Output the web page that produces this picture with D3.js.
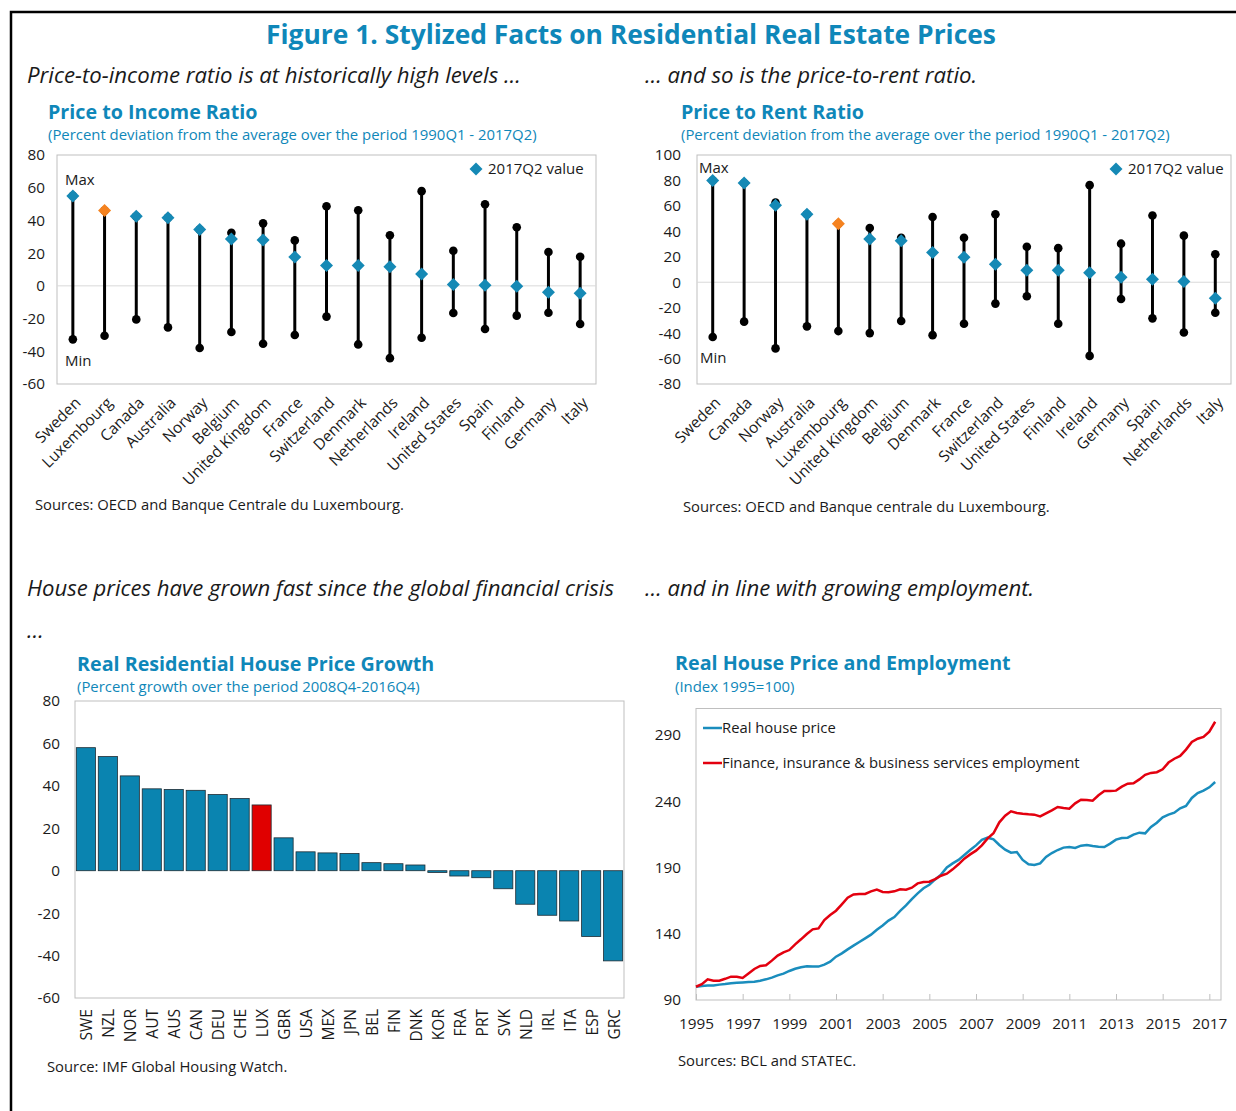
<!DOCTYPE html>
<html>
<head>
<meta charset="utf-8">
<script src="https://cdn.jsdelivr.net/npm/d3@7"></script>
<style>
  body { margin: 0; background: #fff; }
  svg text { font-family: "Open Sans", "Noto Sans", sans-serif; fill: #1a1a1a; }
</style>
</head>
<body>
<script>
// ---- data ----
var incomeNames = ["Sweden", "Luxembourg", "Canada", "Australia", "Norway", "Belgium", "United Kingdom", "France",
  "Switzerland", "Denmark", "Netherlands", "Ireland", "United States", "Spain", "Finland", "Germany", "Italy"];
var incomeMax = [55, 46, 42.5, 41.7, 34.4, 32.5, 38.2, 27.8, 48.7, 46.2, 30.9, 57.9, 21.5, 49.9, 35.8, 20.7, 17.8];
var incomeMin = [-32.7, -30.5, -20.5, -25.4, -38, -28.2, -35.4, -30, -18.8, -35.8, -44.2, -31.7, -16.6, -26.4, -18.2, -16.4, -23.3];
var incomeNow = [55, 46, 42.5, 41.7, 34.4, 28.6, 28, 17.6, 12.5, 12.5, 11.7, 7.2, 0.8, 0.4, -0.2, -3.9, -4.5];
var incomeTicks = [-60, -40, -20, 0, 20, 40, 60, 80];

var rentNames = ["Sweden", "Canada", "Norway", "Australia", "Luxembourg", "United Kingdom", "Belgium", "Denmark",
  "France", "Switzerland", "United States", "Finland", "Ireland", "Germany", "Spain", "Netherlands", "Italy"];
var rentMax = [80, 78, 62.6, 53.4, 46, 42.6, 35, 51.3, 35, 53.4, 27.9, 26.8, 76.3, 30.3, 52.4, 36.6, 22];
var rentMin = [-43, -31, -52, -34.7, -38.4, -40, -30.5, -41.6, -32.6, -16.8, -11, -32.6, -57.9, -13.2, -28.4, -39.5, -24];
var rentNow = [80, 78, 60.5, 53.4, 46, 34, 32.6, 23.4, 19.7, 14.2, 9.5, 9.5, 7.4, 3.9, 2.4, 0.5, -12.6];
var rentTicks = [-80, -60, -40, -20, 0, 20, 40, 60, 80, 100];

var growthCodes = ["SWE", "NZL", "NOR", "AUT", "AUS", "CAN", "DEU", "CHE", "LUX", "GBR", "USA", "MEX", "JPN",
  "BEL", "FIN", "DNK", "KOR", "FRA", "PRT", "SVK", "NLD", "IRL", "ITA", "ESP", "GRC"];
var growthValues = [58, 53.8, 44.7, 38.6, 38.3, 37.9, 35.9, 34, 31, 15.5, 8.9, 8.4, 8.1,
  3.8, 3.3, 2.7, -0.8, -2.5, -3.3, -8.5, -15.8, -21, -23.7, -31, -42.5];
var growthTicks = [-60, -40, -20, 0, 20, 40, 60, 80];

// quarterly, 1995Q1 - 2017Q2
var houseStart = 1995;
var housePrice = [
  100, 100.6, 101, 101, 101.6, 102, 102.6, 103, 103.3, 103.6, 103.8, 104.6,
  105.6, 106.9, 108.6, 109.9, 111.9, 113.6, 114.7, 115.4, 115.2, 115.2, 116.7, 118.9,
  122.7, 125.2, 128.2, 131, 133.8, 136.5, 139.3, 143, 146.3, 149.9, 152.6, 157.2,
  161.4, 166.2, 170.5, 174.3, 177, 181, 184.6, 190.1, 193.1, 195.7, 199.4, 203.2,
  206.7, 210.8, 212.5, 211.3, 207, 203.5, 201.2, 201.7, 195.7, 192.4, 191.9, 193.1,
  198, 200.9, 203.2, 205, 205.5, 204.7, 206.5, 207, 206.2, 205.7, 205.5, 208,
  211, 212.3, 212.5, 214.8, 216.3, 215.8, 220.6, 223.8, 227.9, 229.9, 231.4, 234.7,
  236.4, 242.5, 246.2, 248, 250.5, 254.5];
var employment = [
  100, 102, 105.6, 104.6, 104.6, 106, 107.6, 107.6, 106.6, 110, 113.4, 115.7,
  116.2, 119.7, 123.5, 126, 127.7, 132, 135.8, 139.8, 143.3, 144, 150.4, 154.2,
  157.4, 162.2, 167.2, 169.7, 170, 170, 172, 173.3, 171.5, 171.3, 172, 173.5,
  173.3, 174.8, 178, 179, 179.3, 181.3, 183.8, 185.3, 188.6, 192.4, 196.7, 199.9,
  202.7, 206.7, 212, 215.8, 224.1, 229.1, 232.4, 231.1, 230.5, 230.1, 229.9, 228.6,
  230.9, 233.1, 235.7, 234.9, 234.4, 238.4, 241.2, 241, 240.4, 244.5, 247.7, 247.7,
  248, 251, 253.3, 253.5, 256.5, 259.9, 261.4, 261.9, 264.1, 269.2, 272.1, 274.2,
  279, 284.7, 287.2, 288.5, 292.5, 300];
var indexTicks = [90, 140, 190, 240, 290];
var yearTicks = [1995, 1997, 1999, 2001, 2003, 2005, 2007, 2009, 2011, 2013, 2015, 2017];

var teal = "#0f87b9";
var marker = "#1589b5";
var orange = "#f5821f";

var svg = d3.select("body").append("svg").attr("width", 1236).attr("height", 1111);

// frame
svg.append("path").attr("d", "M11,1111V12H1236").attr("fill", "none").attr("stroke", "#000").attr("stroke-width", 2.5);

function label(x, y, s, size, opts) {
  opts = opts || {};
  var t = svg.append("text").attr("x", x).attr("y", y).text(s)
    .style("font-size", size + "px");
  if (opts.bold) t.style("font-weight", "bold");
  if (opts.italic) t.style("font-style", "italic");
  if (opts.color) t.style("fill", opts.color);
  if (opts.anchor) t.attr("text-anchor", opts.anchor);
  return t;
}

label(631, 44, "Figure 1. Stylized Facts on Residential Real Estate Prices", 26.4, {bold: true, color: teal, anchor: "middle"});
label(27, 83, "Price-to-income ratio is at historically high levels \u2026", 22.2, {italic: true});
label(645, 83, "\u2026 and so is the price-to-rent ratio.", 22.2, {italic: true});
label(48, 119, "Price to Income Ratio", 19.7, {bold: true, color: teal});
label(48, 140, "(Percent deviation from the average over the period 1990Q1 - 2017Q2)", 14.9, {color: teal});
label(681, 119, "Price to Rent Ratio", 19.7, {bold: true, color: teal});
label(681, 140, "(Percent deviation from the average over the period 1990Q1 - 2017Q2)", 14.9, {color: teal});
label(35, 510, "Sources: OECD and Banque Centrale du Luxembourg.", 14.8);
label(683, 512, "Sources: OECD and Banque centrale du Luxembourg.", 14.8);

label(27, 596, "House prices have grown fast since the global financial crisis", 22.1, {italic: true});
label(27, 638, "\u2026", 22.1, {italic: true});
label(645, 596, "\u2026 and in line with growing employment.", 22.1, {italic: true});
label(77, 671, "Real Residential House Price Growth", 19.7, {bold: true, color: teal});
label(77, 692, "(Percent growth over the period 2008Q4-2016Q4)", 14.9, {color: teal});
label(675, 670, "Real House Price and Employment", 19.7, {bold: true, color: teal});
label(675, 692, "(Index 1995=100)", 14.9, {color: teal});
label(47, 1072, "Source: IMF Global Housing Watch.", 14.8);
label(678, 1066, "Sources: BCL and STATEC.", 14.8);

function yAxis(g, y, ticks, x0, pad) {
  var ax = g.append("g").attr("transform", "translate(" + x0 + ",0)")
    .call(d3.axisLeft(y).tickValues(ticks).tickSize(0).tickPadding(pad)
      .tickFormat(function(d) { return String(d); }));
  ax.select(".domain").remove();
  ax.selectAll("text").style("font-size", "15.3px").style("fill", "#1a1a1a")
    .style("font-family", "'Open Sans', sans-serif");
}

function diamond(g, cx, cy, color) {
  g.append("rect").attr("x", -4.6).attr("y", -4.6).attr("width", 9.2).attr("height", 9.2)
    .attr("fill", color)
    .attr("transform", "translate(" + cx + "," + cy + ") rotate(45)");
}

function rangeChart(c) {
  var g = svg.append("g");
  var x = d3.scaleBand().domain(c.names).range([c.left, c.right]);
  var y = d3.scaleLinear().domain(c.domain).range([c.bottom, c.top]);
  g.append("rect").attr("x", c.left).attr("y", c.top).attr("width", c.right - c.left)
    .attr("height", c.bottom - c.top).attr("fill", "none").attr("stroke", "#bfbfbf");
  g.append("line").attr("x1", c.left).attr("x2", c.right).attr("y1", y(0)).attr("y2", y(0))
    .attr("stroke", "#d9d9d9");
  yAxis(g, y, c.ticks, c.left, c.pad);
  c.names.forEach(function(n, i) {
    var cx = x(n) + x.bandwidth() / 2;
    g.append("line").attr("x1", cx).attr("x2", cx).attr("y1", y(c.max[i])).attr("y2", y(c.min[i]))
      .attr("stroke", "#000").attr("stroke-width", 3);
    g.append("circle").attr("cx", cx).attr("cy", y(c.max[i])).attr("r", 4.3).attr("fill", "#000");
    g.append("circle").attr("cx", cx).attr("cy", y(c.min[i])).attr("r", 4.3).attr("fill", "#000");
    diamond(g, cx, y(c.now[i]), n === "Luxembourg" ? orange : marker);
    g.append("text").attr("transform", "translate(" + (cx + 5) + "," + (c.bottom + 16) + ") rotate(-45)")
      .attr("text-anchor", "end").attr("dy", "0.35em").style("font-size", "15.5px").text(n);
  });
  g.append("text").attr("x", c.left + c.maxLbl[0]).attr("y", c.maxLbl[1]).style("font-size", "15px").text("Max");
  g.append("text").attr("x", c.left + c.minLbl[0]).attr("y", c.minLbl[1]).style("font-size", "15px").text("Min");
  diamond(g, c.right - c.legend, c.top + 14, marker);
  g.append("text").attr("x", c.right - c.legend + 12).attr("y", c.top + 19).style("font-size", "15px").text("2017Q2 value");
}

rangeChart({names: incomeNames, max: incomeMax, min: incomeMin, now: incomeNow, ticks: incomeTicks, pad: 12,
  domain: [-60, 80], left: 57, right: 596, top: 155, bottom: 384, maxLbl: [8, 185], minLbl: [8, 366], legend: 120});
rangeChart({names: rentNames, max: rentMax, min: rentMin, now: rentNow, ticks: rentTicks, pad: 16,
  domain: [-80, 100], left: 697, right: 1231, top: 155, bottom: 384, maxLbl: [2, 173], minLbl: [3, 363], legend: 115});

// ---- bar chart ----
(function() {
  var left = 75, right = 624, top = 701, bottom = 998;
  var g = svg.append("g");
  var x = d3.scaleBand().domain(growthCodes).range([left, right]).paddingInner(0.13).paddingOuter(0.06);
  var y = d3.scaleLinear().domain([-60, 80]).range([bottom, top]);
  g.append("rect").attr("x", left).attr("y", top).attr("width", right - left).attr("height", bottom - top)
    .attr("fill", "none").attr("stroke", "#bfbfbf");
  yAxis(g, y, growthTicks, left, 15);
  g.selectAll("rect.bar").data(growthValues).enter().append("rect").attr("class", "bar")
    .attr("x", function(d, i) { return x(growthCodes[i]); })
    .attr("width", x.bandwidth())
    .attr("y", function(d) { return y(Math.max(0, d)); })
    .attr("height", function(d) { return Math.abs(y(d) - y(0)); })
    .attr("fill", function(d, i) { return growthCodes[i] === "LUX" ? "#e00000" : "#0a84b0"; })
    .attr("stroke", "#1d2b33").attr("stroke-width", 0.8);
  growthCodes.forEach(function(c) {
    var cx = x(c) + x.bandwidth() / 2;
    g.append("text").attr("transform", "translate(" + (cx + 1) + "," + (bottom + 11) + ") rotate(-90)")
      .attr("text-anchor", "end").attr("dy", "0.35em").style("font-size", "15.5px").text(c);
  });
})();

// ---- line chart ----
(function() {
  var left = 696, right = 1221, top = 708.5, bottom = 1000;
  var g = svg.append("g");
  var x = d3.scaleLinear().domain([1995, 2017.5]).range([left, right]);
  var y = d3.scaleLinear().domain([90, 310]).range([bottom, top]);
  g.append("rect").attr("x", left).attr("y", top).attr("width", right - left).attr("height", bottom - top)
    .attr("fill", "none").attr("stroke", "#bfbfbf");
  yAxis(g, y, indexTicks, left, 15);
  var xa = g.append("g").attr("transform", "translate(0," + bottom + ")")
    .call(d3.axisBottom(x).tickValues(yearTicks).tickFormat(d3.format("d")).tickSize(-6).tickPadding(18));
  xa.select(".domain").remove();
  xa.selectAll("line").attr("stroke", "#bfbfbf");
  xa.selectAll("text").style("font-size", "15.3px").style("fill", "#1a1a1a")
    .style("font-family", "'Open Sans', sans-serif");
  var line = d3.line().x(function(d, i) { return x(houseStart + i / 4); }).y(function(d) { return y(d); });
  g.append("path").datum(housePrice).attr("d", line).attr("fill", "none").attr("stroke", "#1a8dbd").attr("stroke-width", 2.5);
  g.append("path").datum(employment).attr("d", line).attr("fill", "none").attr("stroke", "#e3000f").attr("stroke-width", 2.5);
  [["Real house price", "#1a8dbd", 728], ["Finance, insurance & business services employment", "#e3000f", 763]].forEach(function(l) {
    g.append("line").attr("x1", 703).attr("x2", 722).attr("y1", l[2]).attr("y2", l[2]).attr("stroke", l[1]).attr("stroke-width", 2.5);
    g.append("text").attr("x", 722).attr("y", l[2] + 5).style("font-size", "14.8px").text(l[0]);
  });
})();
</script>
</body>
</html>
